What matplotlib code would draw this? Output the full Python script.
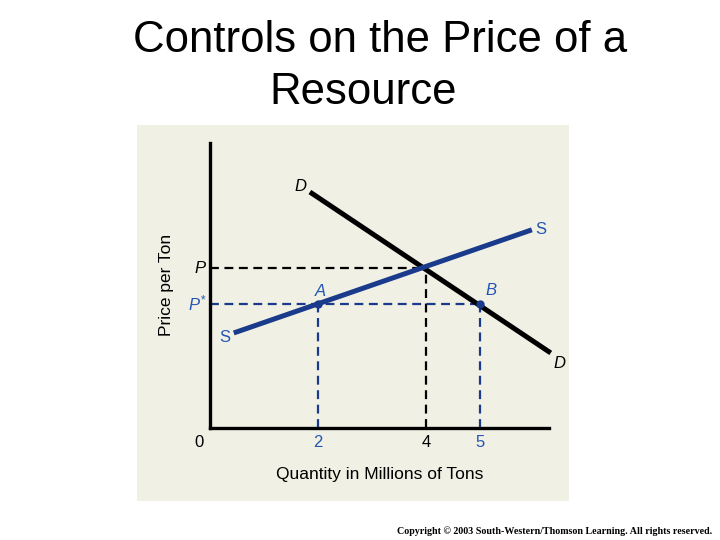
import matplotlib.pyplot as plt
from matplotlib.patches import Rectangle

# curves (quantity in millions of tons, price in arbitrary units)
demand_q = [1.85, 6.31]
demand_p = [4.37, 1.39]
supply_q = [0.44, 5.96]
supply_p = [1.76, 3.67]

p_eq, q_eq = 2.96, 4.0
p_ceiling = 2.30
q_a, q_b = 2.0, 5.0

tick_pos = [0, 2, 4, 5]
tick_txt = ['0', '2', '4', '5']

navy = '#1a3a8c'
blue = '#2355b5'

plt.rcParams['font.family'] = ['Liberation Sans', 'DejaVu Sans']
plt.rcParams['mathtext.fontset'] = 'custom'
plt.rcParams['mathtext.it'] = 'Liberation Sans:italic'
plt.rcParams['mathtext.rm'] = 'Liberation Sans'

fig = plt.figure(figsize=(7.2, 5.4), dpi=100)
fig.patch.set_facecolor('white')

# beige panel
fig.patches.append(Rectangle((137/720, 1-501/540), (569-137)/720, (501-125)/540,
                             transform=fig.transFigure, facecolor='#f1f0e4',
                             edgecolor='none', zorder=-1))

# axes so that data (0,0) sits at pixel (210,428), 54 px per unit
ax = fig.add_axes([210/720, 1-428/540, 339/720, 285/540])
ax.set_zorder(1)
ax.set_xlim(0, 339/54)
ax.set_ylim(0, 285/54)
ax.set_facecolor('none')
for s in ['top', 'right']:
    ax.spines[s].set_visible(False)
for s in ['left', 'bottom']:
    ax.spines[s].set_linewidth(2.4)
    ax.spines[s].set_color('black')
ax.set_xticks([])
ax.set_yticks([])

dash = (0, (4, 2.5))
# market price guides
ax.plot([0, q_eq], [p_eq, p_eq], color='black', lw=1.6, linestyle=dash, zorder=2)
ax.plot([q_eq, q_eq], [0, p_eq], color='black', lw=1.6, linestyle=dash, zorder=2)
# controlled price guides
ax.plot([0, q_b], [p_ceiling, p_ceiling], color=navy, lw=1.6, linestyle=dash, zorder=2)
ax.plot([q_a, q_a], [0, p_ceiling], color=navy, lw=1.6, linestyle=dash, zorder=2)
ax.plot([q_b, q_b], [0, p_ceiling], color=navy, lw=1.6, linestyle=dash, zorder=2)

ax.plot(demand_q, demand_p, color='black', lw=3.6, solid_capstyle='butt', zorder=3,
        clip_on=False)
ax.plot(supply_q, supply_p, color=navy, lw=3.6, solid_capstyle='butt', zorder=4)
ax.plot([q_a, q_b], [p_ceiling, p_ceiling], 'o', color=navy, ms=5, zorder=5)

# curve and point labels
lab = dict(fontsize=12, ha='center', va='center', clip_on=False)
ax.text(1.67, 4.47, 'D', style='italic', **lab)
ax.text(6.48, 1.2, 'D', style='italic', **lab)
ax.text(6.13, 3.67, 'S', color=blue, **lab)
ax.text(0.28, 1.68, 'S', color=blue, **lab)
ax.text(2.05, 2.53, 'A', style='italic', color=blue, **lab)
ax.text(5.2, 2.55, 'B', style='italic', color=blue, **lab)
ax.text(-0.18, p_eq, 'P', style='italic', **lab)
ax.text(-0.24, p_ceiling, r'$P^{*}$', color=blue, **lab)

tick_colors = ['black', blue, 'black', blue]
for x, t, c in zip(tick_pos, tick_txt, tick_colors):
    if x == 0:
        x = -0.2
    ax.text(x, -0.26, t, fontsize=12, color=c, ha='center', va='center', clip_on=False)

fig.text(167/720, 1-285/540, 'Price per Ton', fontsize=12.5, rotation=90,
         ha='center', va='center')
fig.text(380/720, 1-475/540, 'Quantity in Millions of Tons', fontsize=12.5,
         ha='center', va='center')

fig.text(380/720, 1-40/540, 'Controls on the Price of a', fontsize=31.5,
         ha='center', va='center')
fig.text(363/720, 1-92/540, 'Resource', fontsize=31.5, ha='center', va='center')

fig.text(712/720, 1-531/540,
         'Copyright \u00a9 2003 South-Western/Thomson Learning. All rights reserved.',
         fontsize=7.2, family='Liberation Serif', weight='bold', ha='right', va='center')

fig.savefig('out.png', dpi=100)
